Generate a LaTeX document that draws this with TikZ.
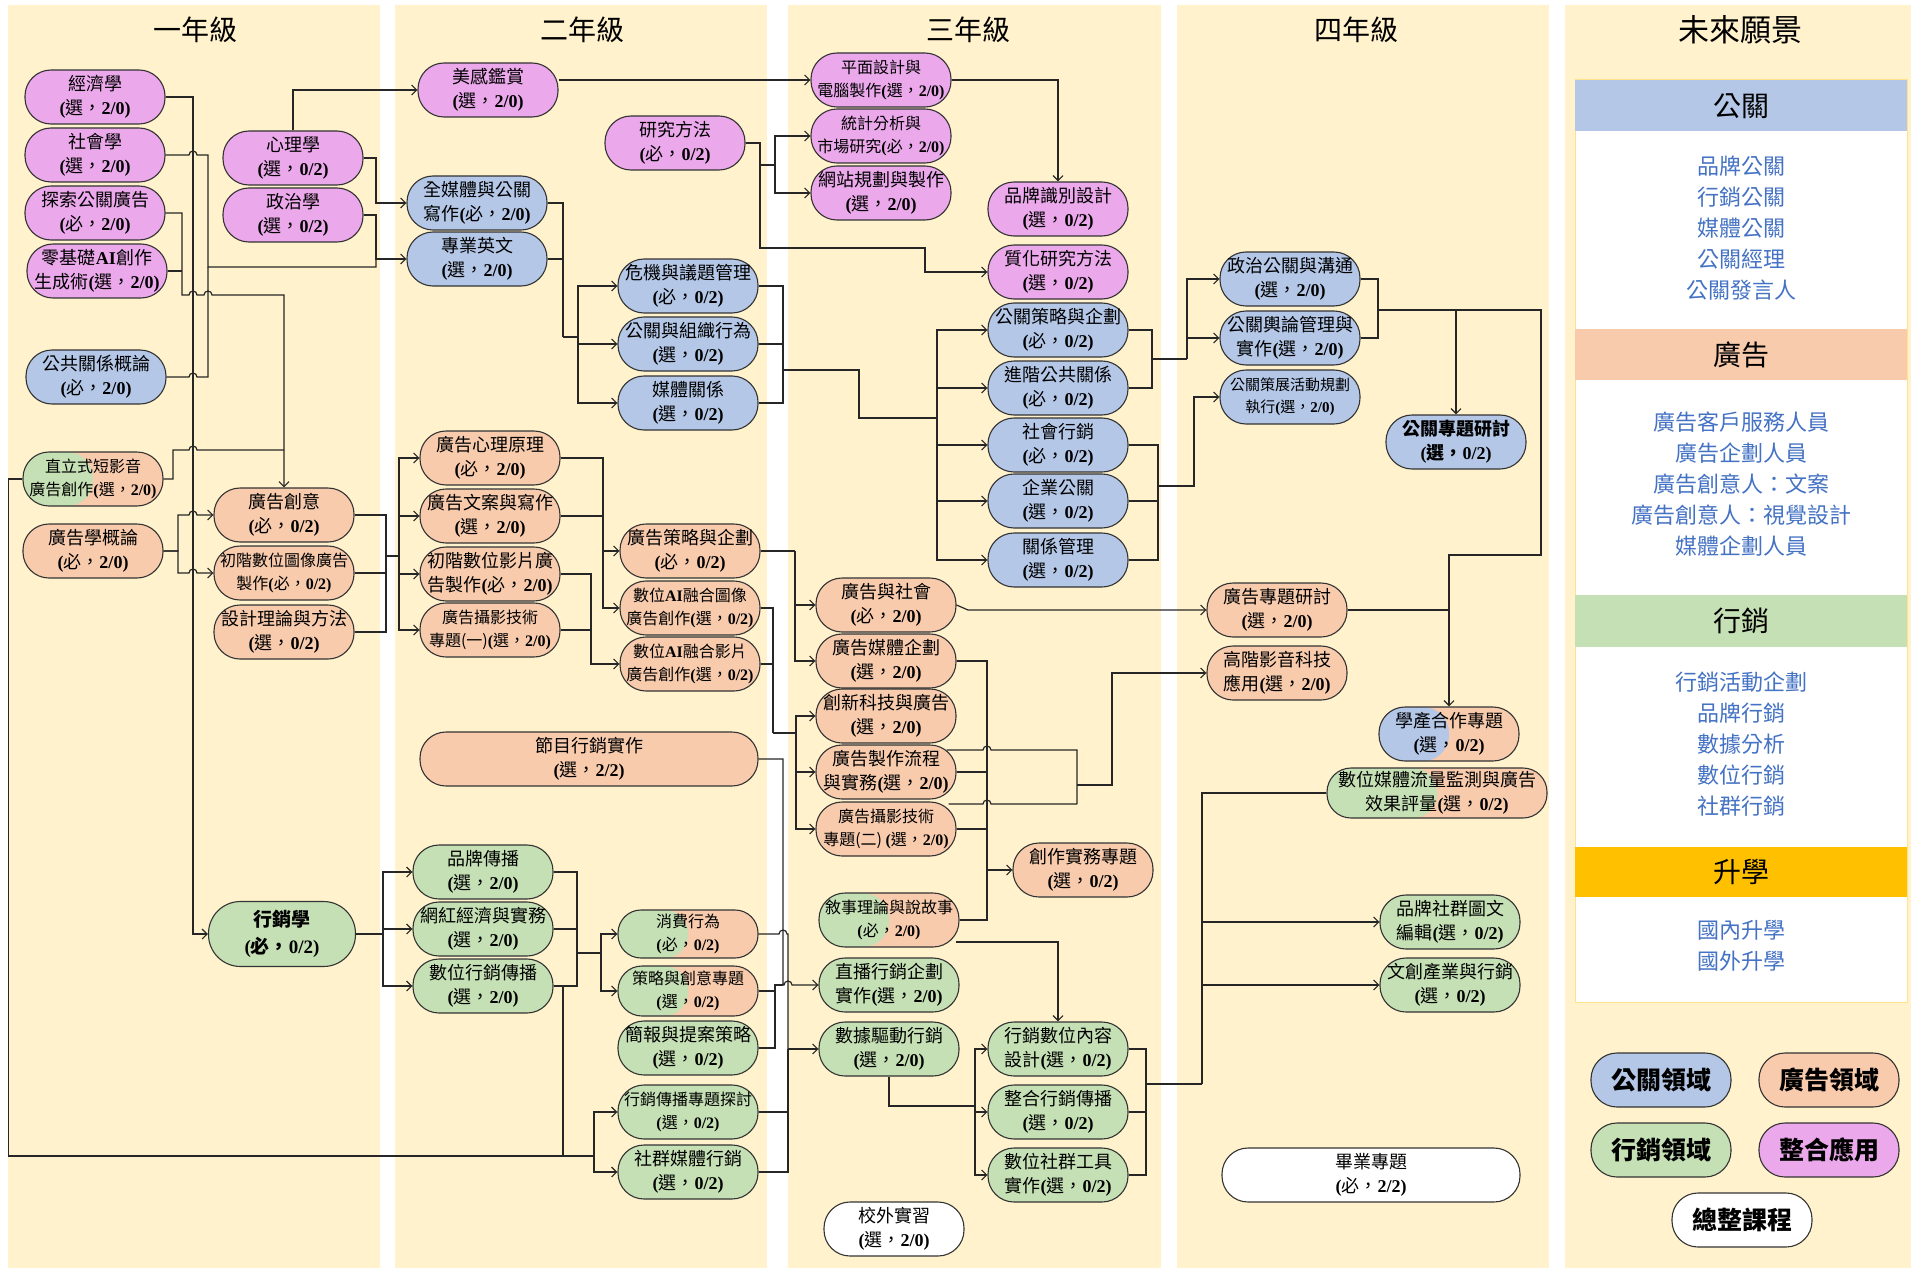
\documentclass[tikz,border=0pt]{standalone}
\usepackage{fontspec}
\setmainfont{Liberation Serif}
\newfontfamily\cjk{Noto Sans CJK TC}
\usetikzlibrary{arrows.meta}

\definecolor{bgc}{HTML}{FFF2CC}
\definecolor{prc}{HTML}{B4C7E7}
\definecolor{adc}{HTML}{F8CBAD}
\definecolor{mkc}{HTML}{C5E0B4}
\definecolor{inc}{HTML}{EBA8EB}
\definecolor{jobc}{HTML}{4472C4}
\definecolor{upc}{HTML}{FFC000}

% credit line: (type, hours)
\newcommand{\crd}[2]{{\rmfamily\bfseries(}#1，{\rmfamily\bfseries #2)}}
% small hop over a vertical line at x=#1
\newcommand{\hop}[2]{-- (#1-4,#2) arc[start angle=180,end angle=360,radius=4]}

\begin{document}
\begin{tikzpicture}[x=1pt, y=-1pt,
    course/.style={draw=black!80, line width=1.1pt, rounded corners=26pt, minimum width=140pt,
        minimum height=54pt, inner sep=1pt, align=center, font=\cjk\fontsize{18}{24}\selectfont},
    pr/.style={course, fill=prc},
    ad/.style={course, fill=adc},
    mk/.style={course, fill=mkc},
    mix/.style={course, fill=inc},
    capbox/.style={course, fill=white},
    split/.style 2 args={course, fill=#2, path picture={\fill[#1] (path picture bounding box.south west) rectangle (path picture bounding box.north);}},
    smallfont/.style={font=\cjk\fontsize{16}{23}\selectfont},
    yeartitle/.style={font=\cjk\fontsize{28}{30}\selectfont},
    headtext/.style={font=\cjk\fontsize{28}{30}\selectfont},
    jobtext/.style={align=center, text=jobc, font=\cjk\fontsize{22}{31}\selectfont},
    legendbox/.style={course, font=\cjk\bfseries\fontsize{25}{28}\selectfont},
    arr/.style={-{Straight Barb[length=5pt,width=10pt]}}
]
    \useasboundingbox (0,0) rectangle (1911,1268);

    % Column backgrounds
    \fill[bgc] (8,5) rectangle (380,1268);
    \fill[bgc] (395,5) rectangle (767,1268);
    \fill[bgc] (788,5) rectangle (1161,1268);
    \fill[bgc] (1177,5) rectangle (1549,1268);
    \fill[bgc] (1565,5) rectangle (1911,1268);

    \node[yeartitle] (t1) at (195,30) {一年級};
    \node[yeartitle] (t2) at (582,30) {二年級};
    \node[yeartitle] (t3) at (968,30) {三年級};
    \node[yeartitle] (t4) at (1356,30) {四年級};
    \node[font=\cjk\fontsize{31}{33}\selectfont] (tf) at (1740,30) {未來願景};

    % Year 1
    \node[mix] (eco) at (95,97) {經濟學\\\crd{選}{2/0}};
    \node[mix] (soc) at (95,155) {社會學\\\crd{選}{2/0}};
    \node[mix] (exp) at (95,213) {探索公關廣告\\\crd{必}{2/0}};
    \node[mix] (aigen) at (97,271) {零基礎{\rmfamily\bfseries AI}創作\\生成術\crd{選}{2/0}};
    \node[pr] (prin) at (96,377) {公共關係概論\\\crd{必}{2/0}};
    \node[mix] (psy) at (293,158) {心理學\\\crd{選}{0/2}};
    \node[mix] (pol) at (293,215) {政治學\\\crd{選}{0/2}};
    \node[split={mkc}{adc}, smallfont] (vshort) at (93,479) {直立式短影音\\廣告創作\crd{選}{2/0}};
    \node[ad] (adintro) at (93,551) {廣告學概論\\\crd{必}{2/0}};
    \node[ad] (adcre) at (284,515) {廣告創意\\\crd{必}{0/2}};
    \node[ad, smallfont] (imgad) at (284,573) {初階數位圖像廣告\\製作\crd{必}{0/2}};
    \node[ad] (design) at (284,632) {設計理論與方法\\\crd{選}{0/2}};
    \node[mk, minimum width=147pt, minimum height=65pt, rounded corners=32pt,
        font=\cjk\bfseries\fontsize{19}{27}\selectfont] (mkt) at (282,934) {行銷學\\\crd{必}{0/2}};

    % Year 2
    \node[mix] (aes) at (488,90) {美感鑑賞\\\crd{選}{2/0}};
    \node[pr] (allmed) at (477,203) {全媒體與公關\\寫作\crd{必}{2/0}};
    \node[pr] (eng) at (477,259) {專業英文\\\crd{選}{2/0}};
    \node[mix] (resm) at (675,143) {研究方法\\\crd{必}{0/2}};
    \node[pr] (crisis) at (688,286) {危機與議題管理\\\crd{必}{0/2}};
    \node[pr] (org) at (688,344) {公關與組織行為\\\crd{選}{0/2}};
    \node[pr] (medrel) at (688,403) {媒體關係\\\crd{選}{0/2}};
    \node[ad] (adpsy) at (490,458) {廣告心理原理\\\crd{必}{2/0}};
    \node[ad] (copy) at (490,516) {廣告文案與寫作\\\crd{選}{2/0}};
    \node[ad] (vidad) at (490,574) {初階數位影片廣\\告製作\crd{必}{2/0}};
    \node[ad, smallfont] (photoa) at (490,630) {廣告攝影技術\\專題(一)\crd{選}{2/0}};
    \node[ad] (adstr) at (690,551) {廣告策略與企劃\\\crd{必}{0/2}};
    \node[ad, smallfont] (aiimg) at (690,608) {數位{\rmfamily\bfseries AI}融合圖像\\廣告創作\crd{選}{0/2}};
    \node[ad, smallfont] (aivid) at (690,664) {數位{\rmfamily\bfseries AI}融合影片\\廣告創作\crd{選}{0/2}};
    \node[ad, minimum width=338pt] (prog) at (589,759) {節目行銷實作\\\crd{選}{2/2}};
    \node[mk] (brand) at (483,872) {品牌傳播\\\crd{選}{2/0}};
    \node[mk] (kol) at (483,929) {網紅經濟與實務\\\crd{選}{2/0}};
    \node[mk] (digmc) at (483,986) {數位行銷傳播\\\crd{選}{2/0}};
    \node[split={mkc}{adc}, smallfont, minimum height=48pt, rounded corners=23pt] (cons) at (688,934) {消費行為\\\crd{必}{0/2}};
    \node[split={mkc}{adc}, smallfont, minimum height=50pt, rounded corners=24pt] (strat) at (688,991) {策略與創意專題\\\crd{選}{0/2}};
    \node[mk] (pitch) at (688,1048) {簡報與提案策略\\\crd{選}{0/2}};
    \node[mk, smallfont] (mcsem) at (688,1112) {行銷傳播專題探討\\\crd{選}{0/2}};
    \node[mk] (social) at (688,1172) {社群媒體行銷\\\crd{選}{0/2}};

    % Year 3
    \node[mix, smallfont] (graph) at (881,80) {平面設計與\\電腦製作\crd{選}{2/0}};
    \node[mix, smallfont] (stat) at (881,136) {統計分析與\\市場研究\crd{必}{2/0}};
    \node[mix] (web) at (881,193) {網站規劃與製作\\\crd{選}{2/0}};
    \node[mix] (brandid) at (1058,209) {品牌識別設計\\\crd{選}{0/2}};
    \node[mix] (qual) at (1058,272) {質化研究方法\\\crd{選}{0/2}};
    \node[pr] (prstr) at (1058,330) {公關策略與企劃\\\crd{必}{0/2}};
    \node[pr] (advpr) at (1058,388) {進階公共關係\\\crd{必}{0/2}};
    \node[pr] (socmkt) at (1058,445) {社會行銷\\\crd{必}{0/2}};
    \node[pr] (corp) at (1058,501) {企業公關\\\crd{選}{0/2}};
    \node[pr] (relm) at (1058,560) {關係管理\\\crd{選}{0/2}};
    \node[ad] (adsoc) at (886,605) {廣告與社會\\\crd{必}{2/0}};
    \node[ad] (admed) at (886,661) {廣告媒體企劃\\\crd{選}{2/0}};
    \node[ad] (innov) at (886,716) {創新科技與廣告\\\crd{選}{2/0}};
    \node[ad] (prod) at (886,772) {廣告製作流程\\與實務\crd{選}{2/0}};
    \node[ad, smallfont] (photob) at (886,829) {廣告攝影技術\\專題(二) \crd{選}{2/0}};
    \node[ad] (crprj) at (1083,870) {創作實務專題\\\crd{選}{0/2}};
    \node[split={mkc}{adc}, smallfont] (story) at (889,920) {敘事理論與說故事\\\crd{必}{2/0}};
    \node[mk] (live) at (889,985) {直播行銷企劃\\實作\crd{選}{2/0}};
    \node[mk] (data) at (889,1049) {數據驅動行銷\\\crd{選}{2/0}};
    \node[mk] (mkcont) at (1058,1049) {行銷數位內容\\設計\crd{選}{0/2}};
    \node[mk] (imc) at (1058,1112) {整合行銷傳播\\\crd{選}{0/2}};
    \node[mk] (soctool) at (1058,1175) {數位社群工具\\實作\crd{選}{0/2}};
    \node[capbox] (intern) at (894,1229) {校外實習\\\crd{選}{2/0}};

    % Year 4
    \node[pr] (polpr) at (1290,279) {政治公關與溝通\\\crd{選}{2/0}};
    \node[pr] (opin) at (1290,338) {公關輿論管理與\\實作\crd{選}{2/0}};
    \node[pr, font=\cjk\fontsize{15}{22}\selectfont] (curate) at (1290,397) {公關策展活動規劃\\執行\crd{選}{2/0}};
    \node[pr, font=\cjk\bfseries\fontsize{18}{24}\selectfont] (prsem) at (1456,442) {公關專題研討\\\crd{選}{0/2}};
    \node[ad] (adsem) at (1277,610) {廣告專題研討\\\crd{選}{2/0}};
    \node[ad] (avtech) at (1277,673) {高階影音科技\\應用\crd{選}{2/0}};
    \node[split={prc}{adc}] (coop) at (1449,734) {學產合作專題\\\crd{選}{0/2}};
    \node[split={mkc}{adc}, minimum width=220pt, minimum height=50pt, rounded corners=24pt] (traffic) at (1437,793) {數位媒體流量監測與廣告\\效果評量\crd{選}{0/2}};
    \node[mk] (brsoc) at (1450,922) {品牌社群圖文\\編輯\crd{選}{0/2}};
    \node[mk] (cult) at (1450,985) {文創產業與行銷\\\crd{選}{0/2}};
    \node[capbox, minimum width=298pt] (capst) at (1371,1175) {畢業專題\\\crd{必}{2/2}};

    % Future panel
    \draw[draw=upc!45, line width=1pt, fill=white] (1575,80) rectangle (1907,1002);
    \fill[prc] (1575,80) rectangle (1907,131);
    \fill[adc] (1575,329) rectangle (1907,380);
    \fill[mkc] (1575,595) rectangle (1907,647);
    \fill[upc] (1575,847) rectangle (1907,897);
    \node[headtext] (hpr) at (1741,106) {公關};
    \node[headtext] (had) at (1741,355) {廣告};
    \node[headtext] (hmk) at (1741,621) {行銷};
    \node[headtext] (hup) at (1741,872) {升學};
    \node[jobtext] (jpr) at (1741,228) {品牌公關\\行銷公關\\媒體公關\\公關經理\\公關發言人};
    \node[jobtext] (jad) at (1741,484) {廣告客戶服務人員\\廣告企劃人員\\廣告創意人：文案\\廣告創意人：視覺設計\\媒體企劃人員};
    \node[jobtext] (jmk) at (1741,744) {行銷活動企劃\\品牌行銷\\數據分析\\數位行銷\\社群行銷};
    \node[jobtext] (jup) at (1741,946) {國內升學\\國外升學};

    % Legend
    \node[legendbox, fill=prc] (kpr) at (1661,1080) {公關領域};
    \node[legendbox, fill=adc] (kad) at (1829,1080) {廣告領域};
    \node[legendbox, fill=mkc] (kmk) at (1661,1150) {行銷領域};
    \node[legendbox, fill=inc] (kin) at (1829,1150) {整合應用};
    \node[legendbox, fill=white] (kcap) at (1742,1220) {總整課程};

    % Junctions
    \coordinate (j1) at (386,556);
    \coordinate (j2) at (399,556);
    \coordinate (j3) at (383,934);
    \coordinate (j4) at (577,953);
    \coordinate (j5) at (601,953);
    \coordinate (j6) at (563,1156);
    \coordinate (j7) at (594,1156);
    \coordinate (j8) at (563,337);
    \coordinate (j9) at (578,337);
    \coordinate (j11) at (783,370);
    \coordinate (j12) at (937,418);
    \coordinate (j13) at (1152,359);
    \coordinate (j14) at (1187,359);
    \coordinate (j15) at (1158,486);
    \coordinate (j16) at (1378,310);
    \coordinate (j17) at (795,551);
    \coordinate (j18) at (773,733);
    \coordinate (j19) at (796,733);
    \coordinate (j21) at (1077,785);
    \coordinate (j22) at (788,1049);
    \coordinate (j23) at (975,1106);
    \coordinate (j24) at (1146,1084);
    \coordinate (j25) at (1202,1084);

    \begin{scope}[line width=1.2pt, draw=black!85]
    % Year 1 links
    \draw[arr] (eco.east) -| (193,934) -- (mkt.west);
    \draw (soc.east) \hop{193}{155} -- (208,155) -- (208,267) -- (376,267) -- (376,215);
    \draw (prin.east) \hop{193}{377} -- (208,377) -- (208,267);
    \draw[arr] (psy.east) -- (376,158) |- (allmed.west);
    \draw[arr] (pol.east) -- (376,215) |- (eng.west);
    \draw[arr] (psy.north) |- (aes.west);
    \draw[arr] (exp.east) -- (182,213) -- (182,295) \hop{193}{295} \hop{208}{295} -| (adcre.north);
    \draw (aigen.east) -- (182,271);
    \draw (vshort.east) -- (173,479) -- (173,450) \hop{193}{450} -- (284,450);
    \draw[arr] (adintro.east) -- (178,551) -- (178,515) \hop{193}{515} -- (adcre.west);
    \draw[arr] (adintro.east) -- (178,551) -- (178,573) \hop{193}{573} -- (imgad.west);
    \draw (adcre.east) -| (j1);
    \draw (imgad.east) -| (j1);
    \draw (design.east) -| (j1);
    \draw (j1) -- (j2);
    \foreach \t in {adpsy,copy,vidad,photoa} \draw[arr] (j2) |- (\t.west);
    \draw (mkt.east) -- (j3);
    \foreach \t in {brand,kol,digmc} \draw[arr] (j3) |- (\t.west);

    % Year 2 links
    \draw[arr] ([yshift=10pt]aes.east) -- (graph.west);
    \draw (allmed.east) -| (j8);
    \draw (eng.east) -- (eng.east -| j8);
    \draw (j8) -- (j9);
    \foreach \t in {crisis,org,medrel} \draw[arr] (j9) |- (\t.west);
    \draw[arr] (resm.east) -- (760,143) |- (925,248) |- (qual.west);
    \draw[arr] (resm.east) -- (760,143) |- (775,165) |- (stat.west);
    \draw[arr] (resm.east) -- (760,143) |- (775,165) |- (web.west);
    \foreach \s in {crisis,org,medrel} \draw (\s.east) -| (j11);
    \draw (j11) -| (859,418) -- (j12);
    \foreach \t in {prstr,advpr,socmkt,corp,relm} \draw[arr] (j12) |- (\t.west);
    \draw[arr] (adpsy.east) -- (603,458) |- (adstr.west);
    \draw[arr] (copy.east) -- (603,516) |- (aiimg.west);
    \draw[arr] (vidad.east) -- (591,574) |- (aivid.west);
    \draw (photoa.east) -- (591,630);
    \foreach \s in {brand,kol,digmc} \draw (\s.east) -| (j4);
    \draw (j4) -- (j5);
    \draw[arr] (j5) |- (cons.west);
    \draw[arr] (j5) |- (strat.west);
    \draw (j6 |- digmc.east) -- (j6) -- (j7);
    \draw (vshort.west) -- ++(-14,0) |- (j6);
    \draw[arr] (j7) |- (mcsem.west);
    \draw[arr] (j7) |- (social.west);
    \draw[arr] (prog.east) -| (783,985) \hop{788}{985} -- (live.west);
    \draw (strat.east) -- (775,991);
    \draw (pitch.east) -| (775,985) -- (783,985);
    \draw (cons.east) \hop{783}{934} -- (788,934) -- (j22);
    \draw (mcsem.east) -- (mcsem.east -| j22);
    \draw (social.east) -| (j22);
    \draw[arr] (j22) -- (data.west);

    % Year 3 links
    \draw[arr] (graph.east) -| (brandid.north);
    \draw (prstr.east) -| (j13);
    \draw (advpr.east) -| (j13);
    \draw (j13) -- (j14);
    \draw[arr] (j14) |- (polpr.west);
    \draw[arr] (j14) |- (opin.west);
    \foreach \s in {socmkt,corp,relm} \draw (\s.east) -| (j15);
    \draw[arr] (j15) -- (1194,486) |- (curate.west);
    \draw (adstr.east) -- (j17);
    \draw[arr] (j17) |- (adsoc.west);
    \draw[arr] (j17) |- (admed.west);
    \draw (aiimg.east) -| (j18);
    \draw (aivid.east) -- (aivid.east -| j18);
    \draw (j18) -- (j19);
    \foreach \t in {innov,prod,photob} \draw[arr] (j19) |- (\t.west);
    \draw[arr] (adsoc.east) -- (968,610) -- (adsem.west);
    \draw[arr] (admed.east) -| (987,870) -- (crprj.west);
    \draw (story.east) -| (987,870);
    \draw (prod.east) -- (987,772);
    \draw (photob.east) -- (987,829);
    \draw ([xshift=-10pt,yshift=22pt]prod.east) \hop{987}{750} -- (1077,750) -- (1077,804);
    \draw ([xshift=-8pt,yshift=25pt]photob.east) \hop{987}{804} -- (1077,804);
    \draw[arr] (j21) -- (1112,785) |- (avtech.west);
    \draw[arr] ([xshift=-4pt,yshift=-22pt]story.east) -| (mkcont.north);
    \draw (data.south) |- (j23);
    \foreach \t in {mkcont,imc,soctool} \draw[arr] (j23) |- (\t.west);
    \foreach \s in {mkcont,imc,soctool} \draw (\s.east) -| (j24);
    \draw (j24) -- (j25);
    \draw (j25) |- (traffic.west);
    \draw[arr] (j25) |- (brsoc.west);
    \draw[arr] (j25) |- (cult.west);

    % Year 4 links
    \draw (polpr.east) -| (j16);
    \draw (opin.east) -| (j16);
    \draw[arr] (j16) -| (prsem.north);
    \draw[arr] (j16) -- (1541,310) |- (1449,555) -- (coop.north);
    \draw (adsem.east) -- (adsem.east -| coop.north);
    \end{scope}
\end{tikzpicture}
\end{document}
